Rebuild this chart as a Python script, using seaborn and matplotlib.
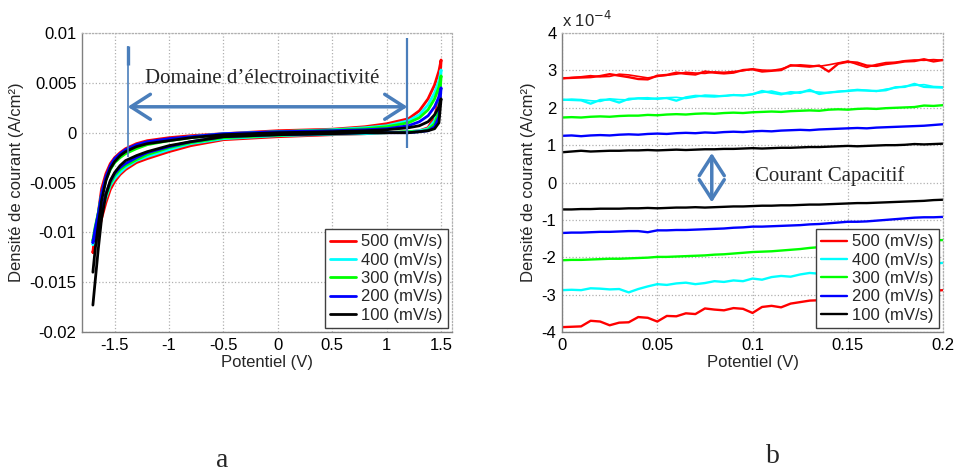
import matplotlib
matplotlib.use('Agg')
import matplotlib.pyplot as plt
import seaborn as sns
from matplotlib.ticker import FuncFormatter

sns.set_style('white')
plt.rcParams['font.family'] = ['Liberation Sans', 'DejaVu Sans']

rates = ['500 (mV/s)', '400 (mV/s)', '300 (mV/s)', '200 (mV/s)', '100 (mV/s)']
colors = ['#ff0000', '#00ffff', '#00ff00', '#0000ff', '#000000']

# --- panel a : full voltammograms (A/cm2) ---
E_cv = [-1.70, -1.68, -1.65, -1.62, -1.58, -1.54, -1.50, -1.45, -1.40, -1.30, -1.20, -1.00,
        -0.80, -0.50, 0.00, 0.50, 0.80, 1.00, 1.20, 1.30, 1.38, 1.44, 1.48, 1.50]

red_up = [-0.0120, -0.0100, -0.0080, -0.0056, -0.0041, -0.0031, -0.0025, -0.0020, -0.0016, -0.0011, -0.0008, -0.0005,
          -0.0003, -0.0001, 0.0002, 0.00035, 0.0006, 0.0009, 0.0014, 0.0022, 0.0034, 0.0048, 0.0062, 0.0073]
red_down = [-0.0120, -0.0112, -0.0100, -0.0086, -0.0070, -0.0057, -0.0049, -0.0042, -0.0037, -0.0030, -0.0026, -0.0019,
            -0.0013, -0.0007, -0.0004, -0.0002, -0.0001, 0.0000, 0.0001, 0.0002, 0.0005, 0.0016, 0.0034, 0.0073]
cyan_up = [-0.0112, -0.0098, -0.0081, -0.0062, -0.0046, -0.0036, -0.0029, -0.0024, -0.0020, -0.0014, -0.0011, -0.0007,
           -0.0004, -0.0001, 0.0001, 0.0003, 0.0005, 0.0007, 0.0012, 0.0018, 0.0028, 0.0040, 0.0052, 0.0063]
cyan_down = [-0.0112, -0.0106, -0.0095, -0.0080, -0.0065, -0.0053, -0.0046, -0.0040, -0.0035, -0.0028, -0.0024, -0.0017,
             -0.0011, -0.0006, -0.0003, -0.00015, -0.0001, 0.0000, 0.0001, 0.0002, 0.0004, 0.0012, 0.0027, 0.0063]
green_up = [-0.0108, -0.0095, -0.0080, -0.0062, -0.0047, -0.0037, -0.0030, -0.0025, -0.0021, -0.0016, -0.0012, -0.0008,
            -0.0005, -0.0002, 0.0001, 0.00025, 0.0004, 0.0006, 0.0010, 0.0015, 0.0023, 0.0034, 0.0046, 0.0057]
green_down = [-0.0108, -0.0102, -0.0092, -0.0078, -0.0063, -0.0051, -0.0043, -0.0037, -0.0033, -0.0027, -0.0022, -0.0015,
              -0.0010, -0.0005, -0.00025, -0.0001, 0.0000, 0.0000, 0.0001, 0.0001, 0.0003, 0.0009, 0.0021, 0.0057]
blue_up = [-0.0110, -0.0097, -0.0081, -0.0061, -0.0044, -0.0033, -0.0026, -0.0021, -0.0017, -0.0012, -0.0009, -0.0006,
           -0.0004, -0.0001, 0.0001, 0.0002, 0.0003, 0.0004, 0.0007, 0.0011, 0.0017, 0.0026, 0.0036, 0.0045]
blue_down = [-0.0110, -0.0104, -0.0093, -0.0077, -0.0061, -0.0049, -0.0041, -0.0035, -0.0031, -0.0025, -0.0020, -0.0014,
             -0.0009, -0.0004, -0.0002, -0.0001, 0.0000, 0.0000, 0.0000, 0.0001, 0.0002, 0.0006, 0.0016, 0.0045]
black_up = [-0.0140, -0.0118, -0.0092, -0.0068, -0.0048, -0.0036, -0.0029, -0.0023, -0.0019, -0.0014, -0.0011, -0.0008,
            -0.0005, -0.0002, 0.0000, 0.0001, 0.0002, 0.0003, 0.0005, 0.0007, 0.0011, 0.0018, 0.0026, 0.0034]
black_down = [-0.0173, -0.0150, -0.0116, -0.0086, -0.0062, -0.0048, -0.0040, -0.0033, -0.0028, -0.0023, -0.0019, -0.0013,
              -0.0009, -0.0004, -0.0002, -0.0001, 0.0000, 0.0000, 0.0000, 0.0001, 0.0002, 0.0004, 0.0010, 0.0034]

xticks_a = [-1.5, -1, -0.5, 0, 0.5, 1, 1.5]
yticks_a = [-0.02, -0.015, -0.01, -0.005, 0, 0.005, 0.01]

# --- panel b : zoom 0-0.2 V (units of 1e-4 A/cm2) ---
E_zoom = [0.000, 0.005, 0.010, 0.015, 0.020, 0.025, 0.030, 0.035, 0.040, 0.045, 0.050, 0.055, 0.060, 0.065,
          0.070, 0.075, 0.080, 0.085, 0.090, 0.095, 0.100, 0.105, 0.110, 0.115, 0.120, 0.125, 0.130, 0.135,
          0.140, 0.145, 0.150, 0.155, 0.160, 0.165, 0.170, 0.175, 0.180, 0.185, 0.190, 0.195, 0.200]

red_pos = [2.79, 2.80, 2.81, 2.82, 2.85, 2.90, 2.86, 2.82, 2.77, 2.76, 2.86, 2.88, 2.94, 2.91,
           2.89, 2.97, 2.94, 2.92, 2.94, 3.01, 3.03, 2.97, 2.99, 3.01, 3.14, 3.12, 3.10, 3.13,
           2.97, 3.18, 3.23, 3.21, 3.13, 3.12, 3.17, 3.20, 3.24, 3.25, 3.30, 3.24, 3.28]
red_pos2 = [2.78, 2.81, 2.83, 2.86, 2.83, 2.84, 2.90, 2.88, 2.84, 2.80, 2.84, 2.87, 2.90, 2.95,
            2.93, 2.92, 2.96, 2.95, 2.97, 2.99, 3.04, 3.01, 3.00, 3.04, 3.12, 3.15, 3.13, 3.11,
            3.15, 3.20, 3.25, 3.16, 3.08, 3.16, 3.21, 3.22, 3.26, 3.28, 3.27, 3.29, 3.27]
cyan_pos = [2.22, 2.21, 2.20, 2.11, 2.21, 2.22, 2.14, 2.24, 2.25, 2.24, 2.25, 2.26, 2.19, 2.28,
            2.32, 2.31, 2.30, 2.32, 2.34, 2.33, 2.36, 2.45, 2.40, 2.36, 2.42, 2.40, 2.48, 2.37,
            2.41, 2.43, 2.45, 2.47, 2.46, 2.45, 2.47, 2.55, 2.56, 2.64, 2.56, 2.55, 2.54]
cyan_pos2 = [2.20, 2.23, 2.22, 2.19, 2.17, 2.24, 2.22, 2.21, 2.26, 2.27, 2.23, 2.27, 2.28, 2.25,
             2.29, 2.34, 2.33, 2.31, 2.35, 2.33, 2.37, 2.41, 2.45, 2.39, 2.37, 2.43, 2.44, 2.42,
             2.40, 2.44, 2.46, 2.49, 2.47, 2.44, 2.50, 2.53, 2.58, 2.60, 2.62, 2.57, 2.56]
green_pos = [1.74, 1.75, 1.74, 1.76, 1.77, 1.76, 1.78, 1.79, 1.79, 1.81, 1.80, 1.82, 1.83, 1.82,
             1.84, 1.85, 1.84, 1.86, 1.87, 1.86, 1.88, 1.89, 1.90, 1.89, 1.91, 1.92, 1.93, 1.92,
             1.95, 1.96, 1.95, 1.97, 1.98, 1.97, 1.99, 2.00, 2.01, 2.02, 2.06, 2.05, 2.07]
blue_pos = [1.25, 1.26, 1.24, 1.26, 1.27, 1.26, 1.28, 1.29, 1.28, 1.30, 1.31, 1.30, 1.32, 1.33,
            1.32, 1.34, 1.33, 1.35, 1.36, 1.35, 1.37, 1.38, 1.37, 1.39, 1.40, 1.41, 1.40, 1.42,
            1.43, 1.44, 1.45, 1.46, 1.45, 1.47, 1.48, 1.49, 1.50, 1.51, 1.52, 1.54, 1.56]
black_pos = [0.81, 0.83, 0.85, 0.83, 0.84, 0.85, 0.85, 0.86, 0.86, 0.87, 0.86, 0.87, 0.88, 0.87,
             0.88, 0.89, 0.89, 0.90, 0.90, 0.91, 0.92, 0.91, 0.92, 0.93, 0.93, 0.94, 0.95, 0.95,
             0.96, 0.97, 0.98, 0.97, 0.98, 0.99, 1.00, 1.00, 1.01, 1.03, 1.02, 1.03, 1.04]

black_neg = [-0.72, -0.72, -0.71, -0.71, -0.70, -0.70, -0.70, -0.69, -0.69, -0.68, -0.69, -0.68, -0.67, -0.67,
             -0.66, -0.67, -0.66, -0.65, -0.64, -0.64, -0.63, -0.62, -0.62, -0.61, -0.61, -0.60, -0.59, -0.59,
             -0.58, -0.57, -0.56, -0.55, -0.55, -0.54, -0.53, -0.52, -0.51, -0.50, -0.49, -0.47, -0.46]
blue_neg = [-1.35, -1.34, -1.34, -1.33, -1.32, -1.32, -1.31, -1.30, -1.30, -1.33, -1.28, -1.28, -1.27, -1.27,
            -1.26, -1.25, -1.24, -1.23, -1.21, -1.20, -1.18, -1.18, -1.17, -1.16, -1.15, -1.14, -1.12, -1.11,
            -1.09, -1.07, -1.05, -1.05, -1.04, -1.02, -1.00, -0.98, -0.96, -0.94, -0.93, -0.93, -0.92]
green_neg = [-2.08, -2.07, -2.07, -2.06, -2.05, -2.04, -2.04, -2.03, -2.02, -2.01, -1.99, -1.99, -1.98, -1.97,
             -1.96, -1.95, -1.93, -1.92, -1.90, -1.88, -1.86, -1.85, -1.84, -1.82, -1.80, -1.78, -1.75, -1.73,
             -1.72, -1.70, -1.69, -1.67, -1.66, -1.64, -1.62, -1.61, -1.59, -1.58, -1.57, -1.55, -1.54]
cyan_neg = [-2.88, -2.87, -2.88, -2.83, -2.84, -2.86, -2.85, -2.94, -2.85, -2.78, -2.72, -2.74, -2.70, -2.68,
            -2.72, -2.69, -2.64, -2.66, -2.62, -2.64, -2.57, -2.60, -2.53, -2.50, -2.52, -2.46, -2.42, -2.44,
            -2.40, -2.38, -2.36, -2.34, -2.32, -2.30, -2.28, -2.26, -2.24, -2.22, -2.19, -2.17, -2.15]
red_neg = [-3.87, -3.86, -3.85, -3.70, -3.72, -3.82, -3.75, -3.74, -3.60, -3.62, -3.72, -3.57, -3.58, -3.50,
           -3.52, -3.37, -3.40, -3.42, -3.36, -3.38, -3.49, -3.33, -3.30, -3.34, -3.24, -3.20, -3.16, -3.15,
           -3.12, -3.10, -3.08, -3.05, -3.03, -3.01, -3.00, -2.98, -2.96, -2.94, -2.92, -2.90, -2.88]

xticks_b = [0, 0.05, 0.1, 0.15, 0.2]
yticks_b = [-4, -3, -2, -1, 0, 1, 2, 3, 4]

arrow_col = '#4a7ebb'
serif = ['Liberation Serif', 'DejaVu Serif']
fmt = FuncFormatter(lambda v, p: f'{v:g}')

fig = plt.figure(figsize=(9.57, 4.73), dpi=100)
ax1 = fig.add_axes([0.0857, 0.2981, 0.3866, 0.632])
ax2 = fig.add_axes([0.5873, 0.2981, 0.3981, 0.632])

ups = [red_up, cyan_up, green_up, blue_up, black_up]
downs = [red_down, cyan_down, green_down, blue_down, black_down]
for up, down, c, lab in zip(ups, downs, colors, rates):
    sns.lineplot(x=E_cv + E_cv[::-1], y=up + down[::-1], sort=False, estimator=None,
                 color=c, lw=2.0, label=lab, ax=ax1)

pos = [red_pos, cyan_pos, green_pos, blue_pos, black_pos]
neg = [red_neg, cyan_neg, green_neg, blue_neg, black_neg]
for p_, n_, c, lab in zip(pos, neg, colors, rates):
    sns.lineplot(x=E_zoom, y=p_, sort=False, estimator=None, color=c, lw=1.7, label=lab, ax=ax2)
    sns.lineplot(x=E_zoom, y=n_, sort=False, estimator=None, color=c, lw=1.7, ax=ax2)
sns.lineplot(x=E_zoom, y=red_pos2, sort=False, estimator=None, color=colors[0], lw=1.2, ax=ax2)
sns.lineplot(x=E_zoom, y=cyan_pos2, sort=False, estimator=None, color=colors[1], lw=1.2, ax=ax2)

for ax in (ax1, ax2):
    ax.grid(True, ls=':', color='#b0b0b0', lw=0.9)
    ax.tick_params(length=0, labelsize=12, pad=4, colors='black')
    for s in ('left', 'bottom'):
        ax.spines[s].set_color('#808080')
        ax.spines[s].set_linewidth(1.0)
    for s in ('top', 'right'):
        ax.spines[s].set_color('#b0b0b0')
        ax.spines[s].set_linestyle(':')
        ax.spines[s].set_linewidth(0.9)
    ax.xaxis.set_major_formatter(fmt)
    ax.yaxis.set_major_formatter(fmt)
    ax.set_xlabel('Potentiel (V)', fontsize=12, labelpad=2)
    ax.set_ylabel('Densité de courant (A/cm²)', fontsize=12, labelpad=4)
    ax.legend(loc='lower right', fontsize=12, fancybox=False, framealpha=1, edgecolor='#404040',
              handlelength=1.6, handletextpad=0.3, labelspacing=0.2, borderpad=0.3, borderaxespad=0.25)
    ax.get_legend().get_frame().set_linewidth(1.0)

ax1.set_xlim(-1.8, 1.6)
ax1.set_ylim(-0.02, 0.01)
ax1.set_xticks(xticks_a)
ax1.set_yticks(yticks_a)

ax2.set_xlim(0, 0.2)
ax2.set_ylim(-4, 4)
ax2.set_xticks(xticks_b)
ax2.set_yticks(yticks_b)
ax2.text(0.0, 1.01, 'x 10$^{-4}$', transform=ax2.transAxes, fontsize=12, ha='left', va='bottom')

# annotations panel a
ax1.vlines(-1.38, -0.0024, 0.0087, color=arrow_col, lw=1.2)
ax1.vlines(-1.38, 0.0068, 0.0087, color=arrow_col, lw=2.4)
ax1.vlines(1.19, -0.0015, 0.0095, color=arrow_col, lw=1.6)
ax1.annotate('', xy=(1.19, 0.0026), xytext=(-1.38, 0.0026),
             arrowprops=dict(arrowstyle='<->,head_length=0.7,head_width=0.45', color=arrow_col,
                             lw=2.5, mutation_scale=20, shrinkA=0, shrinkB=0))
ax1.text(-0.14, 0.0054, 'Domaine d’électroinactivité', family=serif, fontsize=15,
         ha='center', va='center')

# annotations panel b
ax2.annotate('', xy=(0.0786, 0.79), xytext=(0.0786, -0.53),
             arrowprops=dict(arrowstyle='<->,head_length=0.7,head_width=0.45', color=arrow_col,
                             lw=2.5, mutation_scale=20, shrinkA=0, shrinkB=0))
ax2.text(0.1407, 0.17, 'Courant Capacitif', family=serif, fontsize=15, ha='center', va='center')

fig.text(222 / 957, 1 - 460 / 473, 'a', family=serif, fontsize=20, ha='center', va='center')
fig.text(773 / 957, 1 - 456 / 473, 'b', family=serif, fontsize=20, ha='center', va='center')

fig.savefig('out.png', dpi=100)
